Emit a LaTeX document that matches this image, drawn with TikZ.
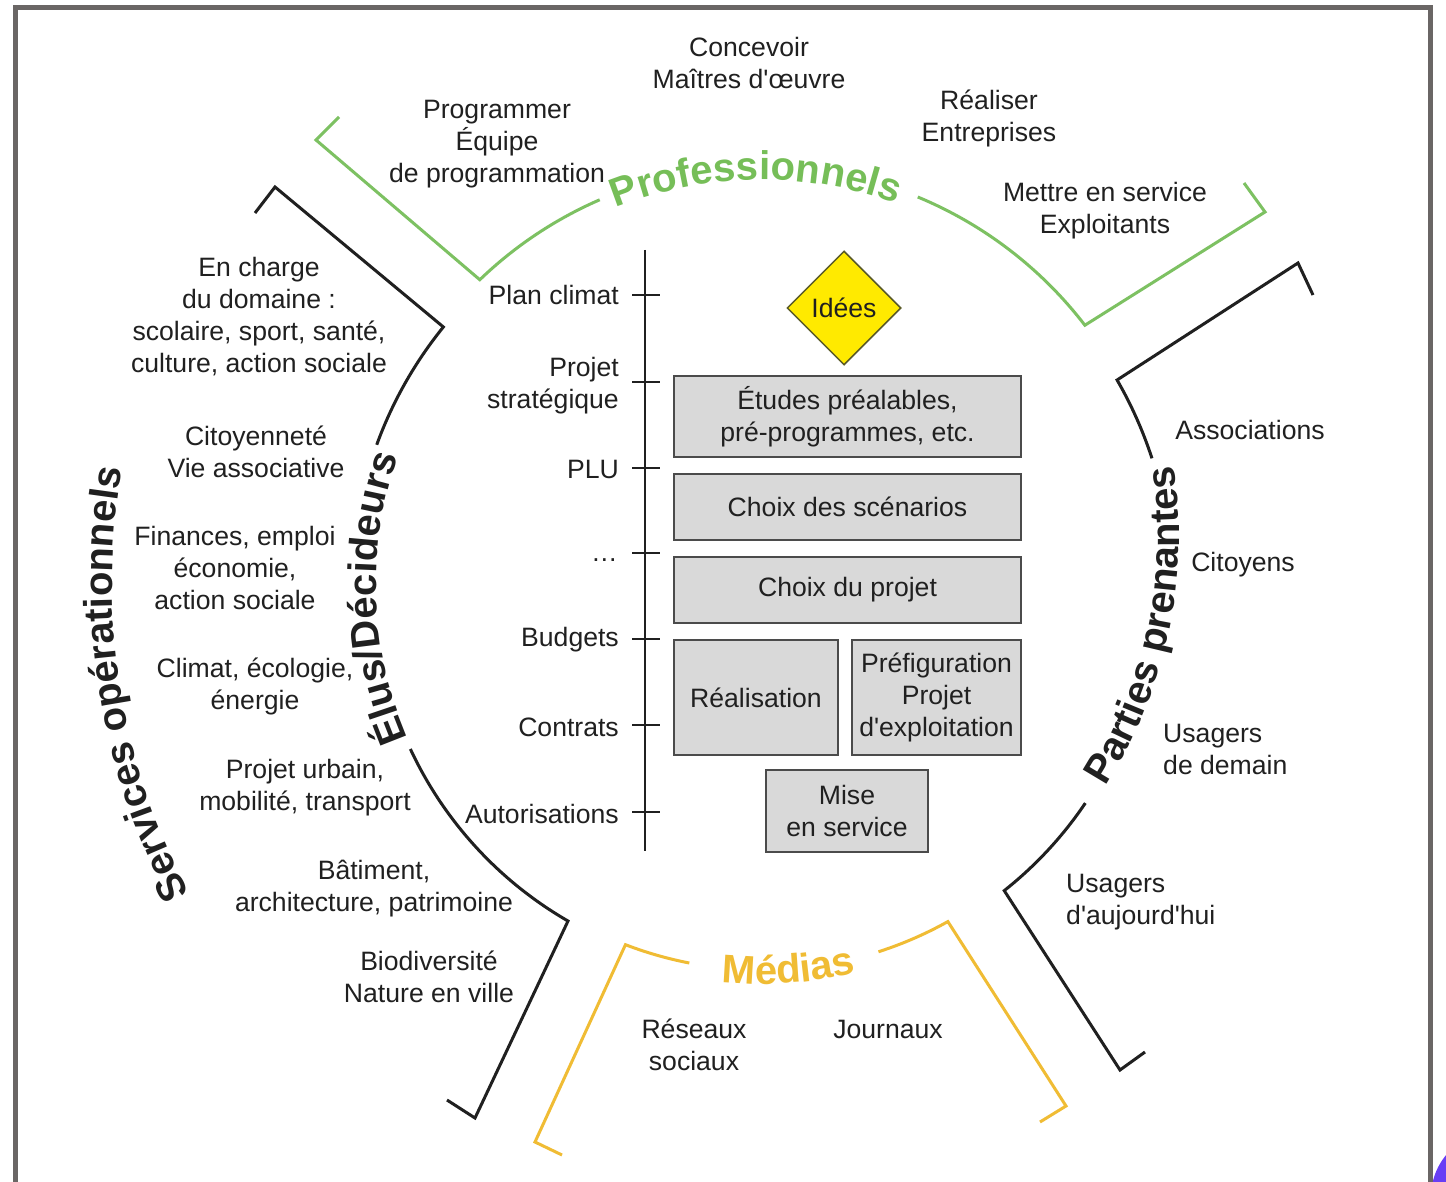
\documentclass[tikz,border=0pt]{standalone}
\usepackage{fontspec}
\setmainfont{Liberation Sans}
\newfontfamily\lsans{Liberation Sans}
\usetikzlibrary{shapes.geometric,decorations.text}
\definecolor{txt}{RGB}{32,32,32}
\definecolor{pgreen}{RGB}{125,193,98}
\definecolor{ptgreen}{RGB}{118,190,88}
\definecolor{myellow}{RGB}{240,188,52}
\definecolor{boxgray}{RGB}{217,217,217}
\definecolor{boxline}{RGB}{75,75,75}
\definecolor{idyellow}{RGB}{255,234,0}
\definecolor{framegray}{RGB}{106,102,101}
\definecolor{blobcol}{RGB}{104,62,245}
\newcommand\ttlfont[1]{\lsans\fontsize{40pt}{48pt}\selectfont\bfseries\color{#1}}
\tikzset{
  lbl/.style={font=\lsans\fontsize{26.6pt}{32pt}\selectfont, text=txt, align=center, inner sep=0pt},
  stagebox/.style={draw=boxline, fill=boxgray, line width=2pt, inner sep=0pt,
    font=\lsans\fontsize{26.6pt}{32pt}\selectfont, text=txt, align=center},
  brk/.style={line width=3pt, line join=miter},
  tline/.style={line width=2pt, draw=txt},
  ttlpath/.style={decorate, decoration={text along path, text align=center, text={#1}}}
}
\begin{document}
\begin{tikzpicture}[x=1pt,y=-1pt]
\useasboundingbox (0,0) rectangle (1446,1182);
\clip (0,0) rectangle (1446,1182);
\fill[white] (0,0) rectangle (1446,1182);
\fill[blobcol] (1497,1197) circle[radius=66];
\draw[framegray, line width=5pt] (15.5,7.5) rectangle (1430.5,1250);

% timeline
\coordinate (tltop) at (645,250);
\coordinate (tlbot) at (645,851);
\draw[tline] (tltop) -- (tlbot);
\foreach \y in {295,382,468,553,639,725,812} \draw[tline] (632,\y) -- (660,\y);
\node[lbl,anchor=east] (plan) at (619,295) {Plan climat};
\node[lbl,anchor=east,align=right] (pstrat) at (619,386) {Projet\\stratégique};
\node[lbl,anchor=east] (plu) at (619,469) {PLU};
\node[lbl,anchor=east] (dots) at (618,560) {…};
\node[lbl,anchor=east] (budg) at (619,640) {Budgets};
\node[lbl,anchor=east] (contr) at (619,727) {Contrats};
\node[lbl,anchor=east] (autor) at (619,814) {Autorisations};

% stages
\node[diamond, draw={rgb,255:red,90;green,90;blue,40}, line width=1.5pt, fill=idyellow, aspect=1,
  minimum width=114pt, minimum height=114pt, inner sep=0pt, font=\lsans\fontsize{26.6pt}{32pt}\selectfont, text=txt] (idees) at (844,308) {Idées};
\node[stagebox, minimum width=347pt, minimum height=81pt] (etudes) at (847.5,416.5) {Études préalables,\\pré-programmes, etc.};
\node[stagebox, minimum width=347pt, minimum height=66pt] (scen) at (847.5,507) {Choix des scénarios};
\node[stagebox, minimum width=347pt, minimum height=66pt] (projet) at (847.5,590) {Choix du projet};
\node[stagebox, minimum width=164pt, minimum height=115pt] (real) at (756,697.5) {Réalisation};
\node[stagebox, minimum width=169pt, minimum height=115pt] (prefig) at (936.5,697.5) {Préfiguration\\Projet\\d'exploitation};
\node[stagebox, minimum width=162pt, minimum height=82pt] (mise) at (847,811) {Mise\\en service};

% left texts
\node[lbl] (encharge) at (259,317) {En charge\\du domaine :\\scolaire, sport, santé,\\culture, action sociale};
\node[lbl] (citoy) at (256,452) {Citoyenneté\\Vie associative};
\node[lbl] (fin) at (235,568) {Finances, emploi\\économie,\\action sociale};
\node[lbl] (climat) at (255,686) {Climat, écologie,\\énergie};
\node[lbl] (urbain) at (305,788) {Projet urbain,\\mobilité, transport};
\node[lbl] (batim) at (374,889) {Bâtiment,\\architecture, patrimoine};
\node[lbl] (biodiv) at (429,977) {Biodiversité\\Nature en ville};

% top texts
\node[lbl] (concev) at (749,63) {Concevoir\\Maîtres d'œuvre};
\node[lbl] (progr) at (497,144) {Programmer\\Équipe\\de programmation};
\node[lbl] (realis) at (989,118) {Réaliser\\Entreprises};
\node[lbl] (mettre) at (1105,211) {Mettre en service\\Exploitants};

% right texts
\node[lbl] (assoc) at (1250,430) {Associations};
\node[lbl] (citoyens) at (1243,565) {Citoyens};
\node[lbl,align=left,anchor=west] (udemain) at (1163,749) {Usagers\\de demain};
\node[lbl,align=left,anchor=west] (uauj) at (1066,902) {Usagers\\d'aujourd'hui};

% bottom texts
\node[lbl] (reseaux) at (694,1045) {Réseaux\\sociaux};
\node[lbl] (journ) at (888,1029) {Journaux};

% Professionnels bracket
\draw[brk, pgreen] (339,117) -- (316,140) -- ([shift={(762,573)}]-133.9:407) arc[start angle=-133.9, end angle=-113.5, radius=407];
\draw[brk, pgreen] ([shift={(762,573)}]-67.5:407) arc[start angle=-67.5, end angle=-37.5, radius=407] -- (1265,212) -- (1244,183);
\path[ttlpath={|\ttlfont{ptgreen}|Professionnels}] ([shift={(762,573)}]-113:393) arc[start angle=-113, end angle=-68.8, radius=393];

% Medias bracket
\draw[brk, myellow] (562,1155) -- (535,1142) -- ([shift={(762,589)}]111:381) arc[start angle=111, end angle=101, radius=381];
\draw[brk, myellow] ([shift={(762,589)}]72.2:381) arc[start angle=72.2, end angle=60.8, radius=381] -- (1066,1106) -- (1040,1122);
\path[ttlpath={|\ttlfont{myellow}|Médias}] ([shift={(762,589)}]99:395) arc[start angle=99, end angle=73, radius=395];

% Elus bracket
\draw[brk, txt] (255,213) -- (275,187) -- ([shift={(762,585)}]219:410) arc[start angle=219, end angle=200, radius=410];
\draw[brk, txt] ([shift={(762,585)}]155:388) arc[start angle=155, end angle=120, radius=388] -- (475,1118) -- (447,1100);
\path[ttlpath={|\ttlfont{txt}|Élus/Décideurs}] ([shift={(762,585)}]154:386) arc[start angle=154, end angle=202, radius=386];

% Parties prenantes bracket
\draw[brk, txt] (1313,295) -- (1298,263) -- ([shift={(762,585)}]-30:410) arc[start angle=-30, end angle=-18, radius=410];
\draw[brk, txt] ([shift={(762,585)}]34:390) arc[start angle=34, end angle=51.6, radius=390] -- (1120,1070) -- (1145,1052);
\path[ttlpath={|\ttlfont{txt}|Parties prenantes}] ([shift={(711,535)}]34:468) arc[start angle=34, end angle=-10, radius=468];

% Services operationnels
\path[ttlpath={|\ttlfont{txt}|Services opérationnels}] ([shift={(762,585)}]150:650) arc[start angle=150, end angle=192, radius=650];
\end{tikzpicture}
\end{document}
